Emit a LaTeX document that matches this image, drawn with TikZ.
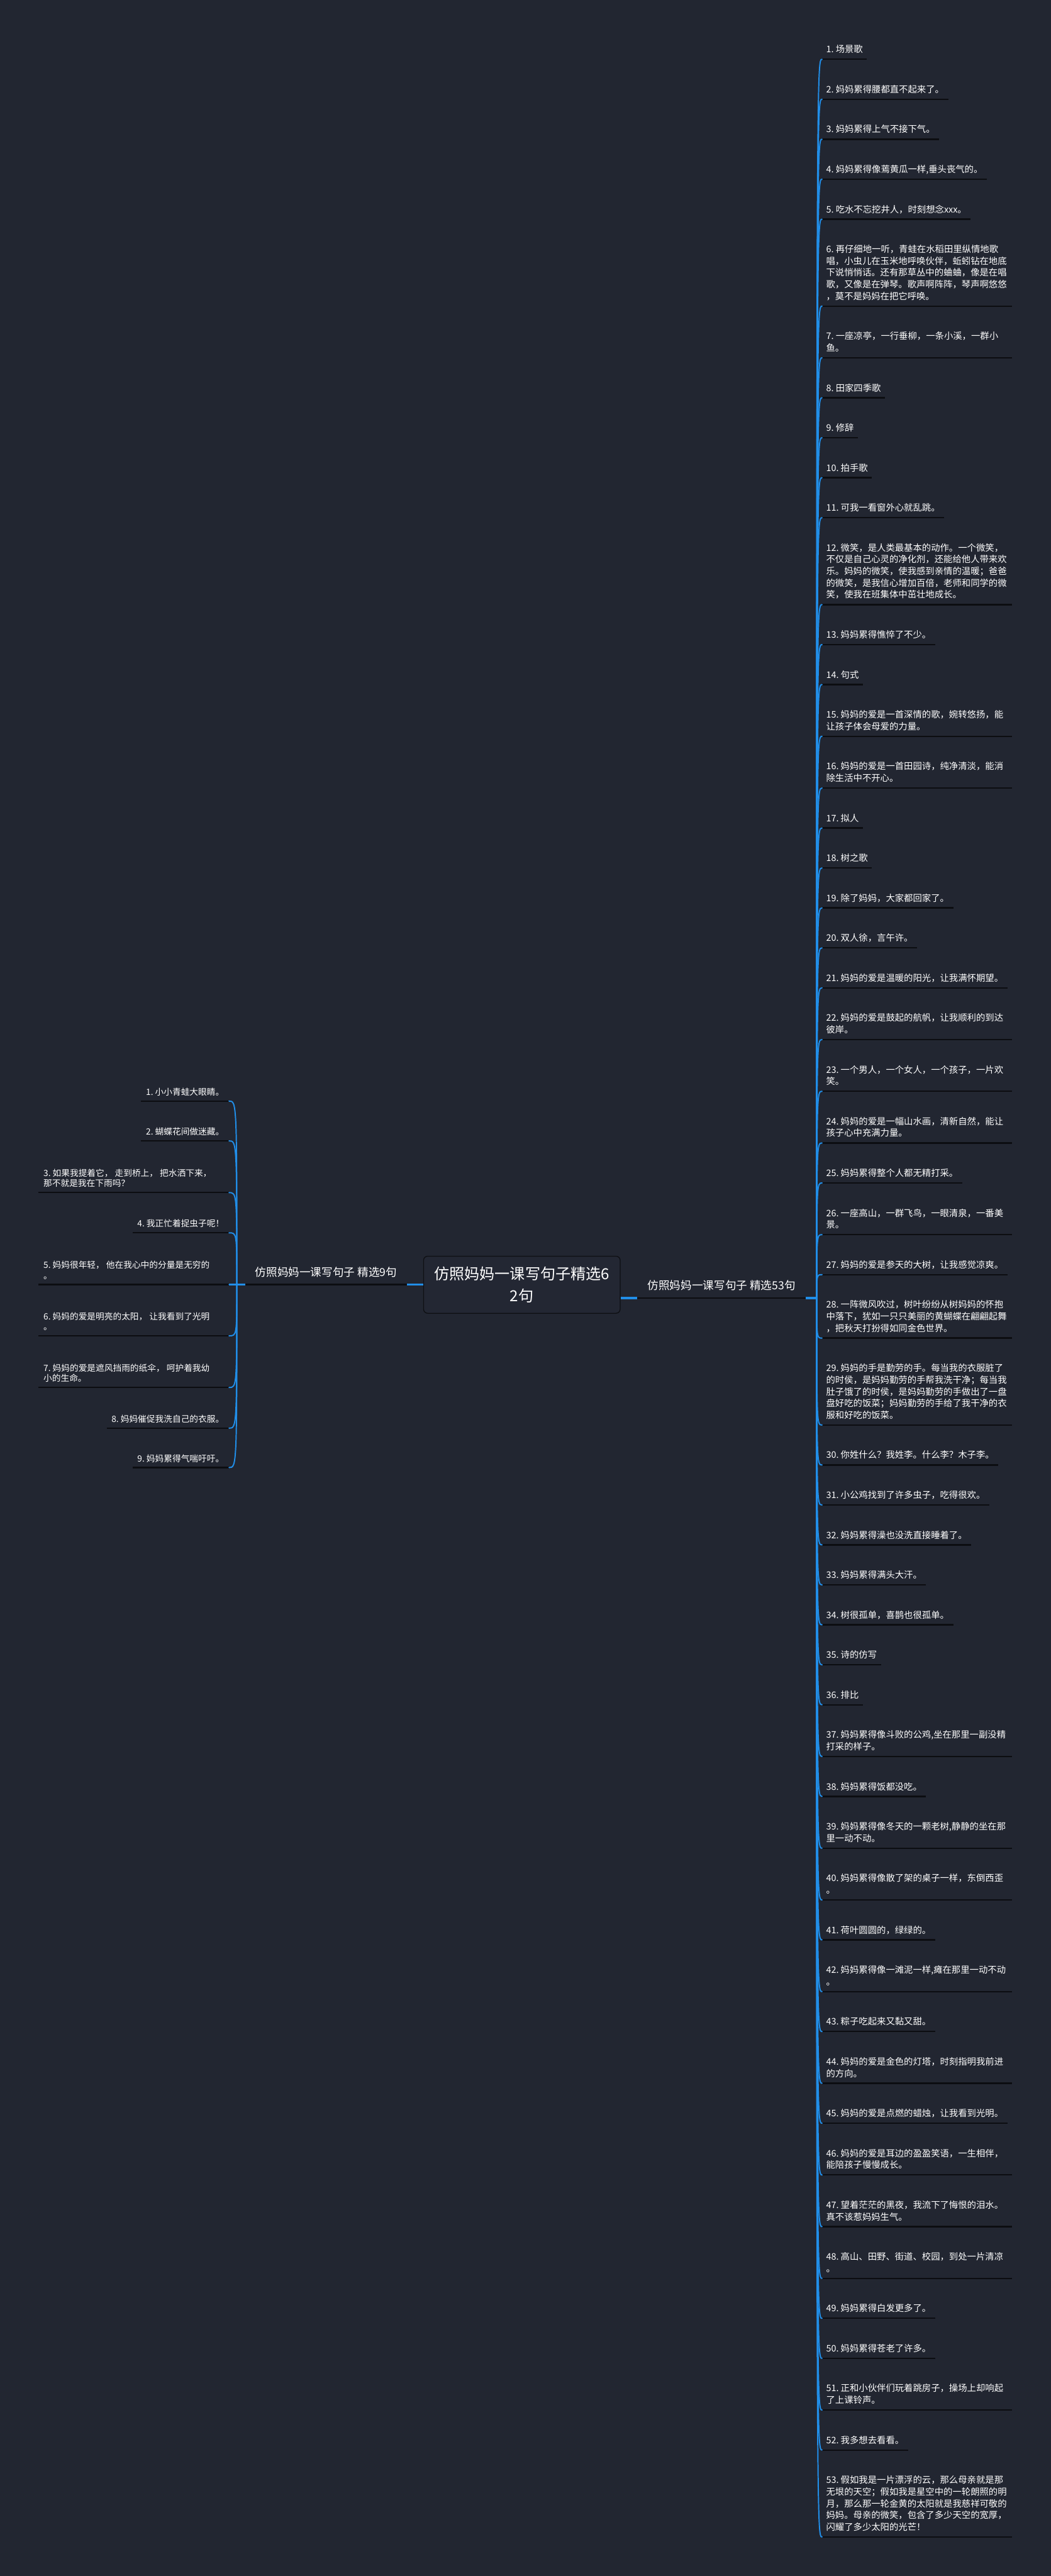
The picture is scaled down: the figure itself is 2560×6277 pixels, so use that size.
\documentclass[tikz,border=0pt]{standalone}
\usepackage{fontspec}
\setmainfont{Noto Sans CJK SC}
\definecolor{bg}{RGB}{34,38,49}
\definecolor{blu}{RGB}{33,142,232}
\definecolor{ulc}{RGB}{12,13,17}
\definecolor{boxc}{RGB}{14,15,19}
\definecolor{boxf}{RGB}{35,39,51}
\newcommand\dstrut{\rule[-6pt]{0pt}{6pt}}
\newcommand\mline[2]{\parbox[b]{#1}{\raggedright #2\dstrut}}
\begin{document}
\begin{tikzpicture}[x=1pt,y=-1pt,
  ritem/.style={anchor=south west, inner xsep=10pt, inner ysep=10pt, outer sep=0pt, text=white, font=\fontsize{22pt}{28.6pt}\selectfont},
  litem/.style={inner xsep=12pt, inner ysep=8.4pt, outer sep=0pt, text=white, font=\fontsize{21pt}{25.5pt}\selectfont},
  lbl/.style={anchor=south, inner xsep=0pt, inner ysep=14pt, outer sep=0pt, text=white, font=\fontsize{27pt}{32pt}\selectfont},
  uline/.style={draw=ulc, line width=3.5pt},
  conn/.style={draw=blu, line width=3pt, line cap=round},
  stub/.style={draw=blu, line width=5pt}]
\useasboundingbox (0,0) rectangle (2560,6277);
\fill[bg] (0,0) rectangle (2560,6277);

% centre
\node[draw=boxc, fill=boxf, line width=2pt, rounded corners=10pt, minimum width=479pt, minimum height=139pt, align=center, text=white, font=\fontsize{37pt}{54pt}\selectfont, inner sep=0pt] (c) at (1271.5,3130.5) {仿照妈妈一课写句子精选6\\2句};

% branch labels
\node[lbl, minimum width=395pt] (lb) at (794.5,3130) {仿照妈妈一课写句子 精选9句\dstrut};
\node[lbl, minimum width=410pt] (rb) at (1758,3163) {仿照妈妈一课写句子 精选53句\dstrut};
\coordinate (JL) at (577,3130);
\coordinate (JLs) at (557,3130);
\coordinate (JR) at (1990,3163);
\draw[uline] (lb.south west) -- (lb.south east);
\draw[stub] (lb.south east) -- (c.west |- lb.south east);
\draw[stub] (lb.south west) -- (JLs);
\draw[uline] (rb.south west) -- (rb.south east);
\draw[stub] (c.east |- rb.south west) -- (rb.south west);
\draw[stub] (rb.south east) -- (JR);

% left items
\node[litem, anchor=south east] (l1) at (558,2683) {1.~小小青蛙大眼睛。\dstrut};
\node[litem, anchor=south east] (l2) at (558,2780) {2.~蝴蝶花间做迷藏。\dstrut};
\node[litem, anchor=south west] (l3) at (94,2906) {\mline{440pt}{3.~如果我提着它， 走到桥上， 把水洒下来，\\那不就是我在下雨吗？}};
\node[litem, anchor=south east] (l4) at (558,3004) {4.~我正忙着捉虫子呢！\dstrut};
\node[litem, anchor=south west] (l5) at (94,3130) {\mline{440pt}{5.~妈妈很年轻， 他在我心中的分量是无穷的\\。}};
\node[litem, anchor=south west] (l6) at (94,3255) {\mline{440pt}{6.~妈妈的爱是明亮的太阳， 让我看到了光明\\。}};
\node[litem, anchor=south west] (l7) at (94,3381) {\mline{440pt}{7.~妈妈的爱是遮风挡雨的纸伞， 呵护着我幼\\小的生命。}};
\node[litem, anchor=south east] (l8) at (558,3480) {8.~妈妈催促我洗自己的衣服。\dstrut};
\node[litem, anchor=south east] (l9) at (558,3576) {9.~妈妈累得气喘吁吁。\dstrut};

% right items
\node[ritem] (r1) at (2003,144.5) {1.~场景歌\dstrut};
\node[ritem] (r2) at (2003,241.9) {2.~妈妈累得腰都直不起来了。\dstrut};
\node[ritem] (r3) at (2003,339.3) {3.~妈妈累得上气不接下气。\dstrut};
\node[ritem] (r4) at (2003,436.7) {4.~妈妈累得像蔫黄瓜一样,垂头丧气的。\dstrut};
\node[ritem] (r5) at (2003,534.1) {5.~吃水不忘挖井人，时刻想念xxx。\dstrut};
\node[ritem] (r6) at (2003,745.9) {\mline{443pt}{6.~再仔细地一听，青蛙在水稻田里纵情地歌\\唱，小虫儿在玉米地呼唤伙伴，蚯蚓钻在地底\\下说悄悄话。还有那草丛中的蛐蛐，像是在唱\\歌，又像是在弹琴。歌声啊阵阵，琴声啊悠悠\\，莫不是妈妈在把它呼唤。}};
\node[ritem] (r7) at (2003,871.9) {\mline{443pt}{7.~一座凉亭，一行垂柳，一条小溪，一群小\\鱼。}};
\node[ritem] (r8) at (2003,969.3) {8.~田家四季歌\dstrut};
\node[ritem] (r9) at (2003,1066.7) {9.~修辞\dstrut};
\node[ritem] (r10) at (2003,1164.1) {10.~拍手歌\dstrut};
\node[ritem] (r11) at (2003,1261.5) {11.~可我一看窗外心就乱跳。\dstrut};
\node[ritem] (r12) at (2003,1473.3) {\mline{443pt}{12.~微笑，是人类最基本的动作。一个微笑，\\不仅是自己心灵的净化剂，还能给他人带来欢\\乐。妈妈的微笑，使我感到亲情的温暖；爸爸\\的微笑，是我信心增加百倍，老师和同学的微\\笑，使我在班集体中茁壮地成长。}};
\node[ritem] (r13) at (2003,1570.7) {13.~妈妈累得憔悴了不少。\dstrut};
\node[ritem] (r14) at (2003,1668.1) {14.~句式\dstrut};
\node[ritem] (r15) at (2003,1794.1) {\mline{443pt}{15.~妈妈的爱是一首深情的歌，婉转悠扬，能\\让孩子体会母爱的力量。}};
\node[ritem] (r16) at (2003,1920.1) {\mline{443pt}{16.~妈妈的爱是一首田园诗，纯净清淡，能消\\除生活中不开心。}};
\node[ritem] (r17) at (2003,2017.5) {17.~拟人\dstrut};
\node[ritem] (r18) at (2003,2114.9) {18.~树之歌\dstrut};
\node[ritem] (r19) at (2003,2212.3) {19.~除了妈妈，大家都回家了。\dstrut};
\node[ritem] (r20) at (2003,2309.7) {20.~双人徐，言午许。\dstrut};
\node[ritem] (r21) at (2003,2407.1) {21.~妈妈的爱是温暖的阳光，让我满怀期望。\dstrut};
\node[ritem] (r22) at (2003,2533.1) {\mline{443pt}{22.~妈妈的爱是鼓起的航帆，让我顺利的到达\\彼岸。}};
\node[ritem] (r23) at (2003,2659.1) {\mline{443pt}{23.~一个男人，一个女人，一个孩子，一片欢\\笑。}};
\node[ritem] (r24) at (2003,2785.1) {\mline{443pt}{24.~妈妈的爱是一幅山水画，清新自然，能让\\孩子心中充满力量。}};
\node[ritem] (r25) at (2003,2882.5) {25.~妈妈累得整个人都无精打采。\dstrut};
\node[ritem] (r26) at (2003,3008.5) {\mline{443pt}{26.~一座高山，一群飞鸟，一眼清泉，一番美\\景。}};
\node[ritem] (r27) at (2003,3105.9) {27.~妈妈的爱是参天的大树，让我感觉凉爽。\dstrut};
\node[ritem] (r28) at (2003,3260.5) {\mline{443pt}{28.~一阵微风吹过，树叶纷纷从树妈妈的怀抱\\中落下，犹如一只只美丽的黄蝴蝶在翩翩起舞\\，把秋天打扮得如同金色世界。}};
\node[ritem] (r29) at (2003,3472.3) {\mline{443pt}{29.~妈妈的手是勤劳的手。每当我的衣服脏了\\的时侯，是妈妈勤劳的手帮我洗干净；每当我\\肚子饿了的时侯，是妈妈勤劳的手做出了一盘\\盘好吃的饭菜；妈妈勤劳的手给了我干净的衣\\服和好吃的饭菜。}};
\node[ritem] (r30) at (2003,3569.7) {30.~你姓什么？我姓李。什么李？木子李。\dstrut};
\node[ritem] (r31) at (2003,3667.1) {31.~小公鸡找到了许多虫子，吃得很欢。\dstrut};
\node[ritem] (r32) at (2003,3764.5) {32.~妈妈累得澡也没洗直接睡着了。\dstrut};
\node[ritem] (r33) at (2003,3861.9) {33.~妈妈累得满头大汗。\dstrut};
\node[ritem] (r34) at (2003,3959.3) {34.~树很孤单，喜鹊也很孤单。\dstrut};
\node[ritem] (r35) at (2003,4056.7) {35.~诗的仿写\dstrut};
\node[ritem] (r36) at (2003,4154.1) {36.~排比\dstrut};
\node[ritem] (r37) at (2003,4280.1) {\mline{443pt}{37.~妈妈累得像斗败的公鸡,坐在那里一副没精\\打采的样子。}};
\node[ritem] (r38) at (2003,4377.5) {38.~妈妈累得饭都没吃。\dstrut};
\node[ritem] (r39) at (2003,4503.5) {\mline{443pt}{39.~妈妈累得像冬天的一颗老树,静静的坐在那\\里一动不动。}};
\node[ritem] (r40) at (2003,4629.5) {\mline{443pt}{40.~妈妈累得像散了架的桌子一样，东倒西歪\\。}};
\node[ritem] (r41) at (2003,4726.9) {41.~荷叶圆圆的，绿绿的。\dstrut};
\node[ritem] (r42) at (2003,4852.9) {\mline{443pt}{42.~妈妈累得像一滩泥一样,瘫在那里一动不动\\。}};
\node[ritem] (r43) at (2003,4950.3) {43.~粽子吃起来又黏又甜。\dstrut};
\node[ritem] (r44) at (2003,5076.3) {\mline{443pt}{44.~妈妈的爱是金色的灯塔，时刻指明我前进\\的方向。}};
\node[ritem] (r45) at (2003,5173.7) {45.~妈妈的爱是点燃的蜡烛，让我看到光明。\dstrut};
\node[ritem] (r46) at (2003,5299.7) {\mline{443pt}{46.~妈妈的爱是耳边的盈盈笑语，一生相伴，\\能陪孩子慢慢成长。}};
\node[ritem] (r47) at (2003,5425.7) {\mline{443pt}{47.~望着茫茫的黑夜，我流下了悔恨的泪水。\\真不该惹妈妈生气。}};
\node[ritem] (r48) at (2003,5551.7) {\mline{443pt}{48.~高山、田野、街道、校园，到处一片清凉\\。}};
\node[ritem] (r49) at (2003,5649.1) {49.~妈妈累得白发更多了。\dstrut};
\node[ritem] (r50) at (2003,5746.5) {50.~妈妈累得苍老了许多。\dstrut};
\node[ritem] (r51) at (2003,5872.5) {\mline{443pt}{51.~正和小伙伴们玩着跳房子，操场上却响起\\了上课铃声。}};
\node[ritem] (r52) at (2003,5969.9) {52.~我多想去看看。\dstrut};
\node[ritem] (r53) at (2003,6181.7) {\mline{443pt}{53.~假如我是一片漂浮的云，那么母亲就是那\\无垠的天空；假如我是星空中的一轮朗照的明\\月，那么那一轮金黄的太阳就是我慈祥可敬的\\妈妈。母亲的微笑，包含了多少天空的宽厚，\\闪耀了多少太阳的光芒！}};

% underlines and connectors
\foreach \i in {1,...,9} {
  \draw[uline] (l\i.south west) -- (l\i.south east);
}
\foreach \i in {1,...,53} {
  \draw[uline] (r\i.south west) -- (r\i.south east);
}
\foreach \i in {1,...,9} {
  \draw[conn] (JL) .. controls (JL |- l\i.south east) .. (l\i.south east);
}
\foreach \i in {1,...,53} {
  \draw[conn] (JR) .. controls (JR |- r\i.south west) .. (r\i.south west);
}
\end{tikzpicture}
\end{document}
